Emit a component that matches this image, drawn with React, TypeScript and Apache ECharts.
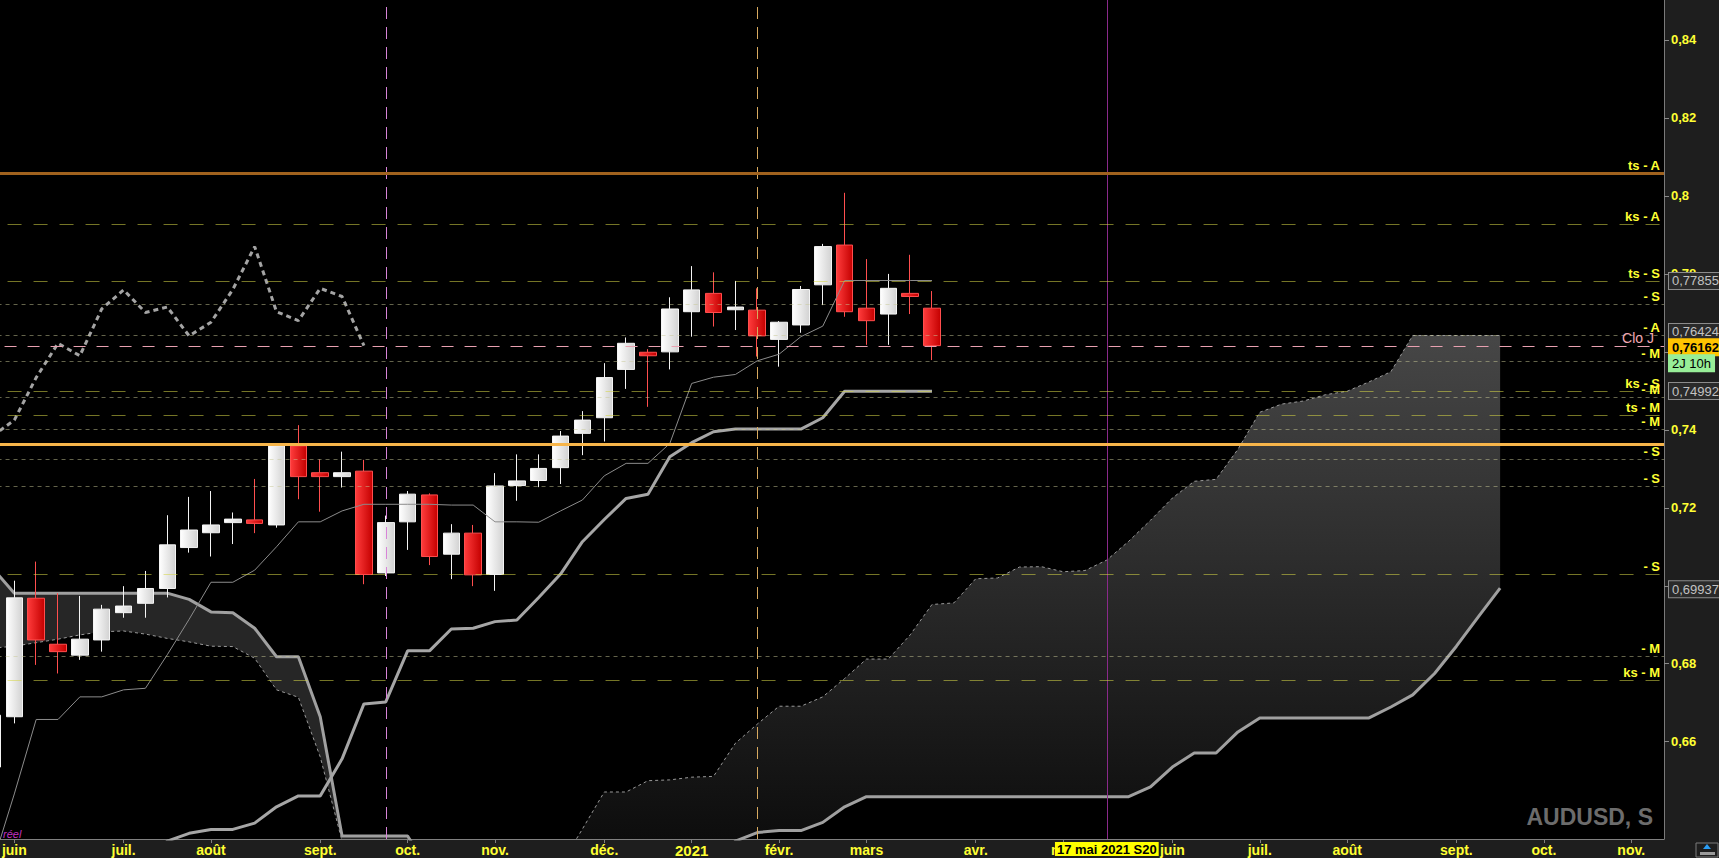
import React, { useEffect, useRef } from 'react';
import * as echarts from 'echarts';

const FONT = 'Liberation Sans, Arial, sans-serif';
const FIRST_WEEK = -1;
const WEEK_COUNT = 77; // weeks -1 .. 75 (week 0 = 1 juin 2020)

const monthWeeks = [0, 5, 9, 14, 18, 22, 27, 31, 35, 39, 44, 48, 53, 57, 61, 66, 70, 74];
const monthNames = ['juin', 'juil.', 'août', 'sept.', 'oct.', 'nov.', 'déc.', '2021', 'févr.', 'mars', 'avr.', 'mai', 'juin', 'juil.', 'août', 'sept.', 'oct.', 'nov.'];

// [open, close, low, high], weeks -1 .. 42
const candles = [
  [0.6535, 0.6668, 0.6503, 0.6683],
  [0.6664, 0.6969, 0.6647, 0.7013],
  [0.6968, 0.6861, 0.6797, 0.7062],
  [0.6850, 0.6831, 0.6775, 0.6981],
  [0.6822, 0.6863, 0.6810, 0.6974],
  [0.6861, 0.6940, 0.6831, 0.6951],
  [0.6931, 0.6948, 0.6918, 0.6999],
  [0.6955, 0.6993, 0.6918, 0.7038],
  [0.6993, 0.7105, 0.6970, 0.7181],
  [0.7098, 0.7143, 0.7085, 0.7228],
  [0.7136, 0.7156, 0.7075, 0.7243],
  [0.7162, 0.7171, 0.7107, 0.7188],
  [0.7169, 0.7160, 0.7135, 0.7274],
  [0.7156, 0.7359, 0.7149, 0.7362],
  [0.7359, 0.7280, 0.7222, 0.7412],
  [0.7290, 0.7280, 0.7190, 0.7324],
  [0.7280, 0.7290, 0.7252, 0.7344],
  [0.7294, 0.7029, 0.7004, 0.7323],
  [0.7033, 0.7162, 0.7025, 0.7180],
  [0.7164, 0.7235, 0.7092, 0.7243],
  [0.7233, 0.7075, 0.7053, 0.7237],
  [0.7081, 0.7135, 0.7017, 0.7158],
  [0.7135, 0.7028, 0.6999, 0.7156],
  [0.7029, 0.7256, 0.6987, 0.7289],
  [0.7257, 0.7269, 0.7218, 0.7337],
  [0.7270, 0.7301, 0.7253, 0.7337],
  [0.7303, 0.7384, 0.7261, 0.7397],
  [0.7391, 0.7425, 0.7335, 0.7448],
  [0.7431, 0.7534, 0.7370, 0.7571],
  [0.7555, 0.7622, 0.7505, 0.7637],
  [0.7599, 0.7590, 0.7459, 0.7607],
  [0.7600, 0.7710, 0.7555, 0.7740],
  [0.7703, 0.7759, 0.7639, 0.7820],
  [0.7750, 0.7701, 0.7665, 0.7804],
  [0.7708, 0.7715, 0.7656, 0.7782],
  [0.7707, 0.7641, 0.7588, 0.7763],
  [0.7632, 0.7676, 0.7562, 0.7679],
  [0.7669, 0.7760, 0.7649, 0.7769],
  [0.7772, 0.7870, 0.7720, 0.7877],
  [0.7874, 0.7703, 0.7690, 0.8008],
  [0.7712, 0.7680, 0.7618, 0.7838],
  [0.7697, 0.7763, 0.7618, 0.7800],
  [0.7750, 0.7742, 0.7697, 0.7849],
  [0.7712, 0.7616, 0.7579, 0.7756],
];

// weeks -1 .. 42
const tenkan = [
  0.6286, 0.6466, 0.6657, 0.6657, 0.6715, 0.6715, 0.6733, 0.6737, 0.6823, 0.6914,
  0.7009, 0.7009, 0.7040, 0.7100, 0.7164, 0.7164, 0.7192, 0.7209, 0.7209, 0.7209,
  0.7209, 0.7207, 0.7207, 0.7164, 0.7164, 0.7163, 0.7192, 0.7220, 0.7282, 0.7314,
  0.7314, 0.7365, 0.7519, 0.7535, 0.7542, 0.7577, 0.7594, 0.7639, 0.7666, 0.7783,
  0.7783, 0.7783, 0.7783, 0.7783,
];
const kijun = [
  0.6285, 0.6285, 0.6285, 0.6285, 0.6285, 0.6285, 0.6285, 0.6285, 0.6345, 0.6365,
  0.6375, 0.6375, 0.6391, 0.6433, 0.6461, 0.6461, 0.6556, 0.6697, 0.6702, 0.6833,
  0.6833, 0.6889, 0.6891, 0.6908, 0.6912, 0.6970, 0.7030, 0.7113, 0.7170, 0.7224,
  0.7235, 0.7331, 0.7367, 0.7395, 0.7402, 0.7402, 0.7402, 0.7402, 0.7431, 0.7499,
  0.7499, 0.7499, 0.7499, 0.7499,
];
// weeks -1 .. 68
const senkouA = [
  0.6840, 0.6845, 0.6854, 0.6863, 0.6874, 0.6882, 0.6884, 0.6876, 0.6865, 0.6856,
  0.6845, 0.6844, 0.6814, 0.6733, 0.6714, 0.6561, 0.6345, 0.6180, 0.6120, 0.6100,
  0.6090, 0.6100, 0.6150, 0.6200, 0.6230, 0.6260, 0.6283, 0.6376, 0.6471, 0.6471,
  0.6500, 0.6502, 0.6509, 0.6511, 0.6596, 0.6645, 0.6691, 0.6691, 0.6715, 0.6762,
  0.6812, 0.6812, 0.6874, 0.6952, 0.6956, 0.7018, 0.7020, 0.7048, 0.7049, 0.7036,
  0.7039, 0.7066, 0.7114, 0.7168, 0.7225, 0.7268, 0.7273, 0.7350, 0.7445, 0.7466,
  0.7474, 0.7490, 0.7499, 0.7523, 0.7549, 0.7642, 0.7642, 0.7642, 0.7642, 0.7642,
];
const senkouB = [
  0.7045, 0.6981, 0.6981, 0.6981, 0.6981, 0.6981, 0.6981, 0.6981, 0.6981, 0.6965,
  0.6933, 0.6931, 0.6891, 0.6818, 0.6818, 0.6664, 0.6358, 0.6358, 0.6358, 0.6358,
  0.6269, 0.6269, 0.6269, 0.6269, 0.6269, 0.6269, 0.6269, 0.6269, 0.6269, 0.6269,
  0.6269, 0.6269, 0.6269, 0.6269, 0.6345, 0.6367, 0.6372, 0.6372, 0.6393, 0.6433,
  0.6459, 0.6459, 0.6459, 0.6459, 0.6459, 0.6459, 0.6459, 0.6459, 0.6459, 0.6459,
  0.6459, 0.6459, 0.6459, 0.6484, 0.6535, 0.6571, 0.6571, 0.6625, 0.6661, 0.6661,
  0.6661, 0.6661, 0.6661, 0.6661, 0.6689, 0.6720, 0.6775, 0.6845, 0.6920, 0.6994,
];
const CHIKOU_SHIFT = 26;

const levelValues = [0.8058, 0.7927, 0.7782, 0.7722, 0.7643, 0.7615, 0.7577, 0.74996, 0.7483, 0.7438, 0.7401, 0.7363, 0.7324, 0.7256, 0.7029, 0.6820, 0.6758];
const levelLabels = ['ts - A', 'ks - A', 'ts - S', '- S', '- A', 'Clo J', '- M', 'ks - S', '- M', 'ts - M', '- M', '', '- S', '- S', '- S', '- M', 'ks - M'];
const levelKinds = ['brown', 'long', 'long', 'fine', 'fine', 'pink', 'fine', 'long', 'fine', 'long', 'fine', 'orange', 'fine', 'fine', 'long', 'fine', 'long'];

const boxValues = [0.7782, 0.7651, 0.7612, 0.7571, 0.74996, 0.6991];
const boxTexts = ['0,77855', '0,76424', '0,76162', '2J 10h', '0,74992', '0,69937'];
const boxKinds = ['gray', 'gray', 'gold', 'green', 'gray', 'gray'];

const vlineWeeks = [17, 34, 50];
const vlineKinds = ['pink', 'orange', 'purple'];
const vlineLabels = ['', '', '17 mai 2021 S20'];

const yTickValues = [0.66, 0.68, 0.7, 0.72, 0.74, 0.76, 0.78, 0.8, 0.82, 0.84];

const weekKey = (w: number) => 'W' + w;
const categories = Array.from({ length: WEEK_COUNT }, (_, k) => weekKey(k + FIRST_WEEK));

const lineStyles: Record<string, any> = {
  long: { color: 'rgba(214,214,70,0.55)', width: 1, type: [14, 12] },
  fine: { color: 'rgba(200,200,150,0.5)', width: 1, type: [4, 4] },
  pink: { color: '#e8a0b0', width: 1, type: [12, 11] },
  brown: { color: '#a0621e', width: 3, type: 'solid' },
  orange: { color: '#f7b54a', width: 3, type: 'solid' },
};
const vStyles: Record<string, any> = {
  pink: { color: '#d884d8', width: 1, type: [12, 8] },
  orange: { color: '#d8aa60', width: 1, type: [12, 8] },
  purple: { color: '#8a2a8a', width: 1, type: 'solid' },
};
const boxStyles: Record<string, any> = {
  gray: { color: '#c2c2c2', backgroundColor: '#2a2a2a', borderColor: '#8c8c8c', fontWeight: 'normal' },
  gold: { color: '#000000', backgroundColor: '#ffc400', borderColor: '#ffc400', fontWeight: 'bold' },
  green: { color: '#000000', backgroundColor: '#98ee98', borderColor: '#98ee98', fontWeight: 'normal' },
};

function buildOption() {
  const chikou = candles.slice(CHIKOU_SHIFT).map((c) => c[1]);
  const cloudLow = senkouA.map((a, k) => Math.min(a, senkouB[k]));
  const cloudBear = senkouA.map((a, k) => Math.max(senkouB[k] - a, 0));
  const cloudBull = senkouA.map((a, k) => Math.max(a - senkouB[k], 0));

  const showIdx = (idx: number) => monthWeeks.indexOf(idx + FIRST_WEEK) >= 0;

  const levelData: any[] = levelValues.map((v, k) => {
    const kind = levelKinds[k];
    const isPink = kind === 'pink';
    return {
      yAxis: v,
      lineStyle: lineStyles[kind],
      label: levelLabels[k]
        ? {
            show: true,
            position: 'insideEndTop',
            formatter: levelLabels[k],
            color: isPink ? '#f0a8b4' : '#ffff33',
            fontWeight: isPink ? 'normal' : 'bold',
            fontSize: isPink ? 14 : 13,
            fontFamily: FONT,
            distance: isPink ? [10, 1] : [4, 1],
          }
        : { show: false },
    };
  });

  const boxData: any[] = boxValues.map((v, k) => {
    const st = boxStyles[boxKinds[k]];
    return {
      yAxis: v,
      lineStyle: { color: 'rgba(0,0,0,0)', width: 1 },
      label: {
        show: true,
        position: 'end',
        formatter: boxTexts[k],
        fontSize: 13,
        fontFamily: FONT,
        padding: [2, 3, 1, 3],
        borderWidth: 1,
        distance: 5,
        ...st,
      },
    };
  });

  const vData: any[] = vlineWeeks.map((w, k) => ({
    xAxis: weekKey(w),
    lineStyle: vStyles[vlineKinds[k]],
    label: vlineLabels[k]
      ? {
          show: true,
          position: 'start',
          formatter: vlineLabels[k],
          color: '#000',
          backgroundColor: '#ffff00',
          fontSize: 13,
          fontWeight: 'bold',
          fontFamily: FONT,
          padding: [1, 2, 0, 2],
          distance: 3,
        }
      : { show: false },
  }));

  const lineBase = { type: 'line', symbol: 'none', silent: true, animation: false, connectNulls: false };

  return {
    animation: false,
    backgroundColor: '#1e1e1e',
    textStyle: { fontFamily: FONT },
    grid: {
      left: -18.45,
      right: 55,
      top: 0,
      bottom: 19,
      show: true,
      backgroundColor: '#000000',
      borderWidth: 0,
      containLabel: false,
      outerBoundsMode: 'none',
    },
    xAxis: {
      type: 'category',
      data: categories,
      boundaryGap: true,
      axisLine: { show: true, lineStyle: { color: '#808080', width: 1 } },
      axisTick: {
        show: true,
        alignWithLabel: true,
        interval: (idx: number) => showIdx(idx),
        length: 4,
        lineStyle: { color: '#808080' },
      },
      axisLabel: {
        interval: (idx: number) => showIdx(idx),
        formatter: (_v: string, idx: number) => {
          const k = monthWeeks.indexOf(idx + FIRST_WEEK);
          if (k < 0) return '';
          const n = monthNames[k];
          return n === '2021' ? '{big|2021}' : n;
        },
        color: '#ffff33',
        fontWeight: 'bold',
        fontSize: 14,
        fontFamily: FONT,
        margin: 4,
        rich: { big: { fontSize: 15, fontWeight: 'bold', color: '#ffff33', fontFamily: FONT } },
      },
      splitLine: { show: false },
    },
    yAxis: {
      type: 'value',
      position: 'right',
      min: 0.63504,
      max: 0.85026,
      scale: true,
      axisLine: { show: true, lineStyle: { color: '#7a7a7a', width: 1 } },
      axisTick: { show: true, length: 5, lineStyle: { color: '#8a8a8a' }, customValues: yTickValues },
      axisLabel: {
        customValues: yTickValues,
        formatter: (v: number) => String(Math.round(v * 100) / 100).replace('.', ','),
        color: '#ffff33',
        fontWeight: 'bold',
        fontSize: 13,
        fontFamily: FONT,
        margin: 7,
      },
      splitLine: { show: false },
    },
    series: [
      { ...lineBase, name: 'cloudLow', stack: 'cloud', data: cloudLow, lineStyle: { width: 0, opacity: 0 }, z: 1 },
      {
        ...lineBase,
        name: 'cloudBear',
        stack: 'cloud',
        data: cloudBear,
        lineStyle: { width: 0, opacity: 0 },
        areaStyle: { color: '#262626', opacity: 1 },
        z: 1,
      },
      {
        ...lineBase,
        name: 'cloudBull',
        stack: 'cloud',
        data: cloudBull,
        lineStyle: { width: 0, opacity: 0 },
        areaStyle: {
          opacity: 1,
          color: new echarts.graphic.LinearGradient(0, 330, 0, 839, [
            { offset: 0, color: '#474747' },
            { offset: 1, color: '#0d0d0d' },
          ], true),
        },
        z: 1,
      },
      { ...lineBase, name: 'senkouB', data: senkouB, lineStyle: { color: '#a0a0a0', width: 3 }, z: 2 },
      { ...lineBase, name: 'senkouA', data: senkouA, lineStyle: { color: '#9a9a9a', width: 1, type: [3, 3] }, z: 2 },
      {
        type: 'candlestick',
        name: 'AUDUSD',
        data: candles,
        barWidth: 17,
        silent: true,
        animation: false,
        z: 3,
        itemStyle: {
          color: new echarts.graphic.LinearGradient(0, 0, 1, 0, [
            { offset: 0, color: '#ffffff' },
            { offset: 1, color: '#d2d2d2' },
          ]),
          color0: new echarts.graphic.LinearGradient(0, 0, 1, 0, [
            { offset: 0, color: '#ff3c3c' },
            { offset: 1, color: '#c40000' },
          ]),
          borderColor: '#f4f4f4',
          borderColor0: '#ff4e4e',
          borderWidth: 1,
        },
      },
      { ...lineBase, name: 'tenkan', data: tenkan, lineStyle: { color: '#8c8c8c', width: 1 }, z: 4 },
      { ...lineBase, name: 'kijun', data: kijun, lineStyle: { color: '#a6a6a6', width: 3 }, z: 4 },
      { ...lineBase, name: 'chikou', data: chikou, lineStyle: { color: '#a4a4a4', width: 3, type: [5, 4] }, z: 4 },
      {
        ...lineBase,
        name: 'levels',
        data: categories.map(() => null),
        z: 5,
        markLine: {
          silent: true,
          animation: false,
          symbol: ['none', 'none'],
          precision: 5,
          data: [...vData, ...levelData, ...boxData],
        },
      },
    ],
    graphic: [
      {
        type: 'text',
        x: 3,
        y: 834,
        silent: true,
        style: { text: 'réel', fill: '#c030c0', font: 'italic 11px ' + FONT, verticalAlign: 'middle' },
      },
      {
        type: 'text',
        x: 1653,
        y: 817,
        silent: true,
        style: { text: 'AUDUSD, S', fill: '#6c6c6c', font: 'bold 23px ' + FONT, align: 'right', verticalAlign: 'middle' },
      },
      {
        type: 'group',
        silent: true,
        children: [
          { type: 'rect', shape: { x: 1696, y: 843, width: 22, height: 14 }, style: { fill: '#1e1e1e', stroke: '#7a7a7a', lineWidth: 1 } },
          { type: 'rect', shape: { x: 1700, y: 852, width: 15, height: 3 }, style: { fill: '#9a9a9a' } },
          { type: 'polygon', shape: { points: [[1707, 844], [1703, 849], [1711, 849]] }, style: { fill: '#2a9df4' } },
        ],
      },
    ],
  };
}

export default function App() {
  const ref = useRef<HTMLDivElement>(null);
  useEffect(() => {
    const el = ref.current;
    if (!el) return;
    const chart = echarts.init(el, null, { renderer: 'svg' });
    chart.setOption(buildOption() as any);
    return () => {
      chart.dispose();
    };
  }, []);
  return (
    <div
      ref={ref}
      style={{ position: 'fixed', left: 0, top: 0, width: 1719, height: 858, background: '#1e1e1e' }}
    />
  );
}
